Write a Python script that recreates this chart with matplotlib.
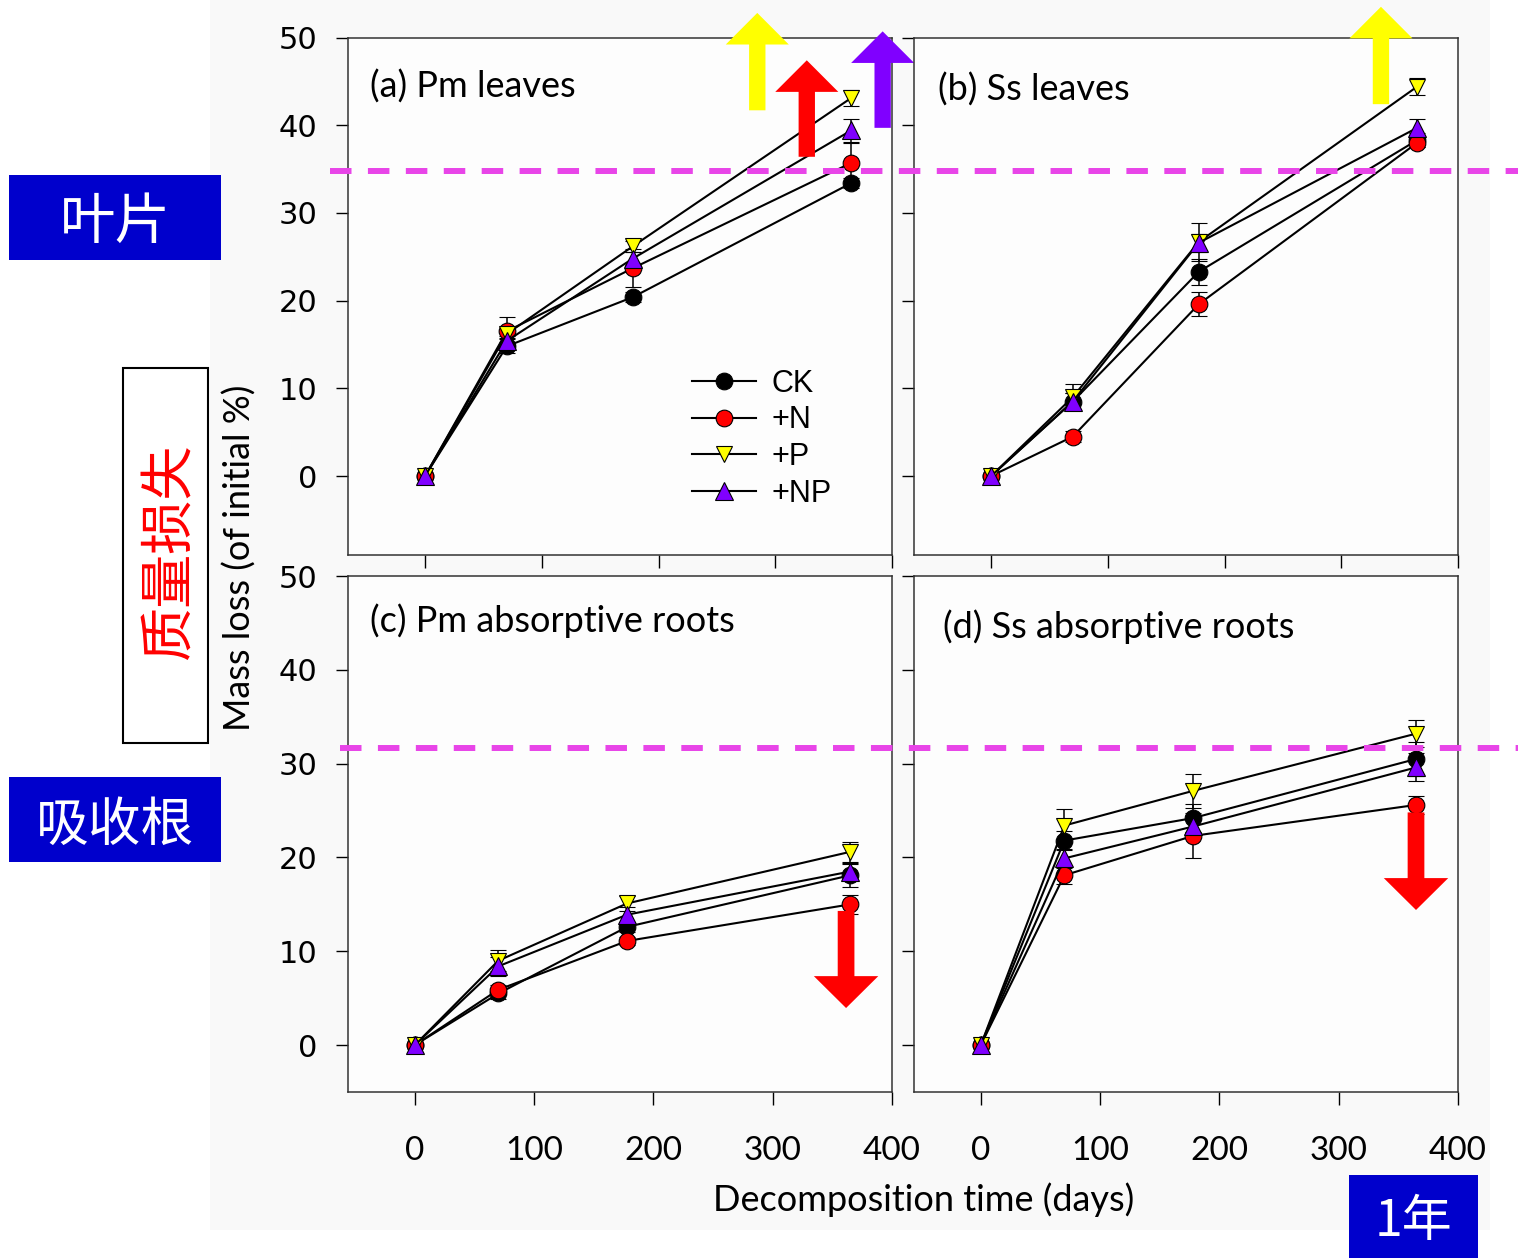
import matplotlib
matplotlib.use("Agg")
import matplotlib.pyplot as plt
from matplotlib.lines import Line2D
from matplotlib.patches import Rectangle, FancyArrow
from matplotlib.transforms import blended_transform_factory

days = [0, 70, 178, 365]
treatments = ["CK", "+N", "+P", "+NP"]

# mass loss (% of initial), rows: CK, +N, +P, +NP
pm_leaves = [[0, 14.8, 20.4, 33.4], [0, 16.5, 23.7, 35.7], [0, 16.2, 26.2, 43.1], [0, 15.4, 24.8, 39.4]]
pm_leaves_se = [[0, 0.8, 0.6, 0.6], [0, 1.6, 2.2, 2.3], [0, 0.5, 0.6, 0.9], [0, 0.6, 0.8, 1.3]]
ss_leaves = [[0, 8.5, 23.3, 38.3], [0, 4.5, 19.6, 38.0], [0, 9.0, 26.7, 44.4], [0, 8.5, 26.6, 39.7]]
ss_leaves_se = [[0, 1.0, 1.5, 0.8], [0, 0.6, 1.4, 0.5], [0, 1.5, 2.2, 1.0], [0, 1.0, 1.0, 1.0]]
pm_roots = [[0, 5.5, 12.6, 18.1], [0, 5.9, 11.1, 15.0], [0, 9.0, 15.1, 20.6], [0, 8.4, 13.9, 18.5]]
pm_roots_se = [[0, 0.6, 0.5, 1.3], [0, 0.5, 0.4, 1.0], [0, 1.1, 0.8, 1.1], [0, 1.0, 0.8, 0.8]]
ss_roots = [[0, 21.8, 24.2, 30.5], [0, 18.1, 22.3, 25.6], [0, 23.4, 27.1, 33.2], [0, 19.9, 23.3, 29.6]]
ss_roots_se = [[0, 1.0, 1.5, 1.8], [0, 0.9, 2.4, 1.0], [0, 1.8, 1.8, 1.4], [0, 1.0, 1.2, 1.5]]

titles = ["(a) Pm leaves", "(b) Ss leaves", "(c) Pm absorptive roots", "(d) Ss absorptive roots"]
leaves_line = 34.8
roots_line = 31.7

# arrows: panel, x (days), tail, tip, colour
arrows = [(0, 284.6, 41.7, 52.8, "#ffff00"), (0, 327, 36.4, 47.4, "#ff0000"),
          (0, 392, 39.7, 50.7, "#8000ff"), (1, 334, 42.4, 53.5, "#ffff00"),
          (2, 361.5, 14.3, 3.95, "#ff0000"), (3, 364.8, 24.8, 14.4, "#ff0000")]

W, H = 1518, 1258
fig = plt.figure(figsize=(W / 100, H / 100), dpi=100)
fig.patch.set_facecolor("white")
fig.add_artist(Rectangle((210 / W, 1 - 1230 / H), 1280 / W, 1230 / H, transform=fig.transFigure,
                         facecolor="#f9f9f9", edgecolor="none", zorder=-5))

boxes = [[348, 555, 544, 517.5], [914, 555, 544, 517.5], [348, 1092, 544, 516], [914, 1092, 544, 516]]
axes = [fig.add_axes([x / W, 1 - y / H, w / W, h / H]) for x, y, w, h in boxes]
data = [(pm_leaves, pm_leaves_se), (ss_leaves, ss_leaves_se), (pm_roots, pm_roots_se), (ss_roots, ss_roots_se)]

markers = ["o", "o", "v", "^"]
faces = ["black", "#ff0000", "#ffff00", "#8000ff"]
sizes = [12, 12, 12, 13]

for i, ax in enumerate(axes):
    means, errs = data[i]
    for k in range(4):
        ax.errorbar(days, means[k], yerr=errs[k], color="black", lw=1.5, elinewidth=1.1,
                    capsize=6, capthick=1.1, marker=markers[k], ms=sizes[k],
                    mfc=faces[k], mec="black", mew=0.8)
    ax.set_facecolor("#fdfdfd")
    if i < 2:
        ax.set_xlim(-66, 400)
        ax.set_ylim(-9, 50)
    else:
        ax.set_xlim(-56, 400)
        ax.set_ylim(-5, 50)
    ax.set_xticks([0, 100, 200, 300, 400])
    ax.set_yticks([0, 10, 20, 30, 40, 50])
    ax.tick_params(axis="y", direction="out", length=9, width=1, pad=13, labelsize=22)
    ax.tick_params(axis="x", direction="out", length=9, width=1, pad=23, labelsize=24)
    for lab in ax.get_xticklabels():
        lab.set_fontfamily("Lato")
    for s in ax.spines.values():
        s.set_linewidth(1.1)
        s.set_color("#333333")
    if i < 2:
        ax.tick_params(axis="x", labelbottom=False)
    if i % 2 == 1:
        ax.tick_params(axis="y", labelleft=False)
    ty = [0.905, 0.90, 0.913, 0.901][i]
    tx = [0.04, 0.044, 0.04, 0.053][i]
    ax.text(tx, ty, titles[i], transform=ax.transAxes, ha="left", va="center",
            fontsize=26, family="Lato")

for p, x, y0, y1, c in arrows:
    ax = axes[p]
    hl = 3.6 if p < 2 else 3.4
    ax.add_patch(FancyArrow(x, y0, 0, y1 - y0, width=14, head_width=54, head_length=hl,
                            length_includes_head=True, color=c, lw=0, clip_on=False, zorder=6))

# dashed reference lines across both columns
for ax, yv, x0 in [(axes[0], leaves_line, 330), (axes[2], roots_line, 340)]:
    tr = blended_transform_factory(fig.transFigure, ax.transData)
    fig.add_artist(Line2D([x0 / W, 1.0], [yv, yv], transform=tr, color="#e845e8",
                          lw=4.3, linestyle=(0, (3.6, 2.75)), zorder=5))

handles = [Line2D([], [], color="black", lw=1.5, marker=markers[k], ms=sizes[k],
                  mfc=faces[k], mec="black", mew=0.8) for k in range(4)]
axes[0].legend(handles, treatments, loc="upper left", bbox_to_anchor=(0.632, 0.36),
               frameon=False, borderaxespad=0, borderpad=0, handlelength=2.1,
               handletextpad=0.5, labelspacing=0.22, prop={"family": "Liberation Sans", "size": 22})

fig.text(240 / W, 1 - 558 / H, "Mass loss (of initial %)", rotation=90, ha="center", va="center",
         fontsize=26, family="Lato")
fig.text(924 / W, 1 - 1200 / H, "Decomposition time (days)", ha="center", va="center",
         fontsize=26, family="Lato")

cjk = ["Noto Sans CJK SC", "DejaVu Sans"]
blue = "#0000cc"
for x0, y0, x1, y1, txt, fs in [(9, 175, 221, 260, "叶片", 40), (9, 777, 221, 862, "吸收根", 38),
                                (1349, 1175, 1478, 1258, "1年", 36)]:
    fig.add_artist(Rectangle((x0 / W, 1 - y1 / H), (x1 - x0) / W, (y1 - y0) / H,
                             transform=fig.transFigure, facecolor=blue, edgecolor="none"))
    fig.text((x0 + x1) / 2 / W, 1 - ((y0 + y1) / 2 + 6) / H, txt, ha="center", va="center",
             color="white", fontsize=fs, family=cjk)

fig.add_artist(Rectangle((123 / W, 1 - 743 / H), 85 / W, 375 / H, transform=fig.transFigure,
                         facecolor="white", edgecolor="black", lw=1.5))
fig.text(169 / W, 1 - 552 / H, "质量损失", rotation=90, ha="center", va="center",
         color="#ff0000", fontsize=39, family=cjk)

fig.savefig("out.png", dpi=100)
